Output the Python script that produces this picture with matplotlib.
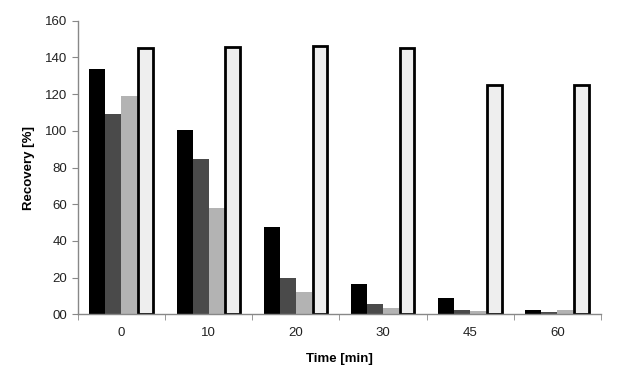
import matplotlib.pyplot as plt
import numpy as np

plt.rcParams['font.family'] = ['Liberation Sans', 'DejaVu Sans']

times = ['0', '10', '20', '30', '45', '60']
series_a = [133.5, 100.5, 47.6, 16.5, 8.7, 2.2]
series_b = [109.3, 84.8, 19.8, 5.8, 2.5, 1.4]
series_c = [118.8, 58.1, 12.4, 3.3, 1.6, 2.3]
series_d = [144.9, 145.7, 146.4, 145.3, 125.1, 125.1]
yticks = [0, 20, 40, 60, 80, 100, 120, 140, 160]
ytick_labels = ['00', '20', '40', '60', '80', '100', '120', '140', '160']

fig = plt.figure(figsize=(6.18, 3.76), dpi=100)
ax = fig.add_axes([0.126, 0.164, 0.8465, 0.781])

x = np.arange(len(times))
w = 0.184
ax.bar(x - 1.5 * w, series_a, width=w, color='#000000', linewidth=0)
ax.bar(x - 0.5 * w, series_b, width=w, color='#4a4a4a', linewidth=0)
ax.bar(x + 0.5 * w, series_c, width=w, color='#b3b3b3', linewidth=0)
ax.bar(x + 1.5 * w, series_d, width=w * 0.9, color='#eeeeee',
       edgecolor='#000000', linewidth=2)

ax.set_xlim(-0.5, len(times) - 0.5)
ax.set_ylim(0, 160)
ax.set_yticks(yticks)
ax.set_yticklabels(ytick_labels)
ax.set_xticks(x)
ax.set_xticklabels(times)
ax.set_xticks(np.arange(len(times) + 1) - 0.5, minor=True)
ax.tick_params(axis='x', which='major', length=0, pad=9, labelsize=9.5, colors='#222222')
ax.tick_params(axis='x', which='minor', length=4, color='#888888', direction='out')
ax.tick_params(axis='y', length=4, color='#888888', labelsize=9.5, colors='#222222')
for sp in ['top', 'right']:
    ax.spines[sp].set_visible(False)
for sp in ['left', 'bottom']:
    ax.spines[sp].set_color('#888888')
    ax.spines[sp].set_linewidth(1)

ax.set_ylabel('Recovery [%]', fontsize=9.5, fontweight='bold', labelpad=7)
ax.set_xlabel('Time [min]', fontsize=9.5, fontweight='bold', labelpad=10)

fig.savefig('out.png', dpi=100)
